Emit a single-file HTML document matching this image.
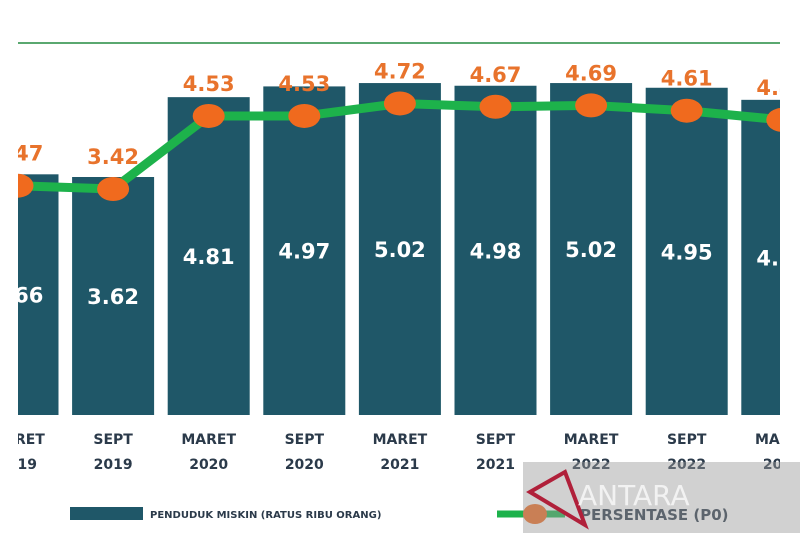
<!DOCTYPE html>
<html><head><meta charset="utf-8"><style>
html,body{margin:0;padding:0;background:#fff;width:800px;height:533px;overflow:hidden}
svg text{font-family:"DejaVu Sans","Liberation Sans",sans-serif;font-weight:bold}
</style></head><body>
<svg id="c" width="800" height="533">
<defs><clipPath id="clip"><rect x="18" y="0" width="762" height="533"/></clipPath></defs>
<line x1="18" y1="43" x2="780" y2="43" stroke="#5aa870" stroke-width="2"/>
<g id="plot" clip-path="url(#clip)"></g>
<g>
<rect x="70" y="507" width="73" height="13" fill="#1f5768"/>
<text x="150" y="518" font-size="10" fill="#2b3a4a">PENDUDUK MISKIN (RATUS RIBU ORANG)</text>
<line x1="497" y1="514" x2="565" y2="514" stroke="#1db24b" stroke-width="7"/>
<ellipse cx="535" cy="514" rx="12" ry="10" fill="#f06a1e"/>
<text x="580" y="520" font-size="15" fill="#2b3a4a">PERSENTASE (P0)</text>
</g>
<g>
<rect x="523" y="462" width="277" height="71" fill="#9a9a9a" opacity="0.45"/>
<path d="M530 492 L565 472 L585 525 Z" fill="none" stroke="#b0203a" stroke-width="4"/>
<text x="578" y="505" font-size="28" fill="#f2f2f2" style="font-weight:normal">ANTARA</text>
</g>
</svg>
<script>
const categories=["MARET 2019","SEPT 2019","MARET 2020","SEPT 2020","MARET 2021","SEPT 2021","MARET 2022","SEPT 2022","MARET 2023"];
const poorPeople=[3.66,3.62,4.81,4.97,5.02,4.98,5.02,4.95,4.77];
const percentage=[3.47,3.42,4.53,4.53,4.72,4.67,4.69,4.61,4.47];
const barLabels=["3.66","3.62","4.81","4.97","5.02","4.98","5.02","4.95","4.77"];
const pctLabels=["3.47","3.42","4.53","4.53","4.72","4.67","4.69","4.61","4.47"];
const NS="http://www.w3.org/2000/svg";
const g=document.getElementById('plot');
const xC=i=>17.5+95.6*i;
const yBar=v=>177-(v-3.62)*67.1;
const yPct=v=>189-(v-3.42)*65.8;
const base=415,bw=82;
function mk(t,a){const e=document.createElementNS(NS,t);for(const k in a)e.setAttribute(k,a[k]);return e;}
poorPeople.forEach((v,i)=>{
 const r=mk('rect',{x:xC(i)-bw/2,y:yBar(v),width:bw,height:base-yBar(v),fill:'#1f5768'});
 
 
 g.appendChild(r);
 const t=mk('text',{x:xC(i),y:(yBar(v)+base)/2+8,'font-size':21,fill:'#fff','text-anchor':'middle'});
 t.textContent=barLabels[i];
 
 
 g.appendChild(t);
 const parts=categories[i].split(' ');
 [0,1].forEach(j=>{
  const l=mk('text',{x:xC(i),y:444+j*25,'font-size':14,fill:'#2b3a4a','text-anchor':'middle'});
  l.textContent=parts[j];
  
  
  g.appendChild(l);
 });
});
const pts=percentage.map((v,i)=>xC(i)+','+yPct(v)).join(' ');
const pl=mk('polyline',{points:pts,fill:'none',stroke:'#1db24b','stroke-width':9,'stroke-linejoin':'round'});


g.appendChild(pl);
percentage.forEach((v,i)=>{
 const c=mk('ellipse',{cx:xC(i),cy:yPct(v),rx:16,ry:12,fill:'#f06a1e'});
 
 
 g.appendChild(c);
 const t=mk('text',{x:xC(i),y:yPct(v)-25,'font-size':21,fill:'#e8732c','text-anchor':'middle'});
 t.textContent=pctLabels[i];
 
 
 g.appendChild(t);
});
</script>
</body></html>
